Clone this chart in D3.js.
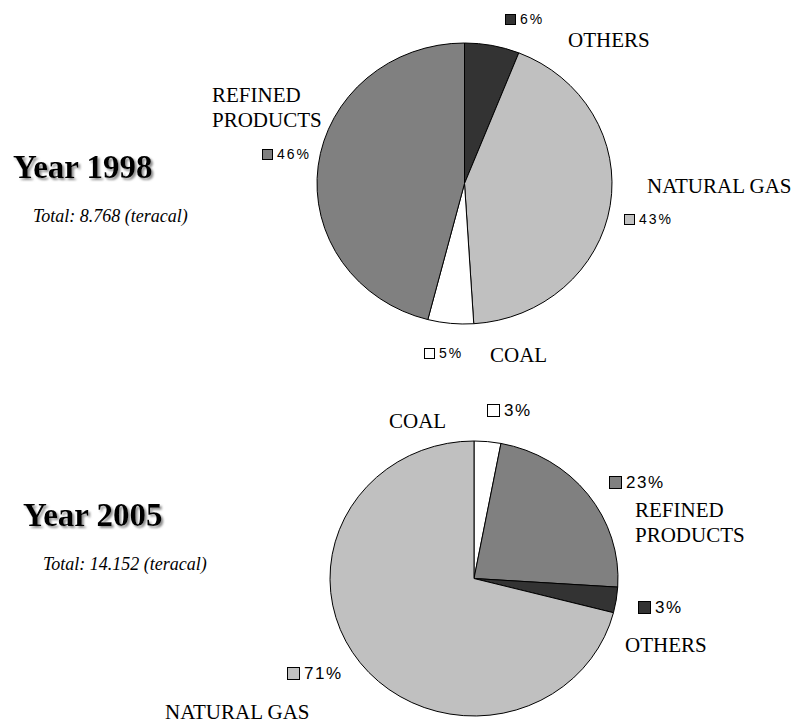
<!DOCTYPE html>
<html>
<head>
<meta charset="utf-8">
<script src="https://cdn.jsdelivr.net/npm/d3@7"></script>
<style>
  body { margin: 0; background: #fff; }
  svg { display: block; }
</style>
</head>
<body>
<script type="text/javascript">
var w = 806;
var h = 726;

// DATA (clockwise from 12 o'clock, as drawn)
var categories1998 = ["OTHERS", "NATURAL GAS", "COAL", "REFINED PRODUCTS"];
var values1998 = [6, 43, 5, 46];
var categories2005 = ["COAL", "REFINED PRODUCTS", "OTHERS", "NATURAL GAS"];
var values2005 = [3, 23, 3, 71];
var years = ["Year 1998", "Year 2005"];
var totals = ["Total: 8.768 (teracal)", "Total: 14.152 (teracal)"];

var colors = {
  "OTHERS": "#333333",
  "NATURAL GAS": "#c0c0c0",
  "COAL": "#ffffff",
  "REFINED PRODUCTS": "#808080"
};

// LAYOUT
var charts = [
  { cats: categories1998, vals: values1998, cx: 464.5, cy: 183.5, rx: 147.5, ry: 140.5,
    title: [13, 178], total: [33, 222], pctSize: 14, pctSpace: 2, sq: 11,
    labels: {
      "OTHERS":           { name: [568, 47],  pct: [505, 14] },
      "NATURAL GAS":      { name: [647, 193], pct: [624, 214] },
      "COAL":             { name: [490, 362], pct: [424, 348] },
      "REFINED PRODUCTS": { name: [212, 102], pct: [262, 149] }
    } },
  { cats: categories2005, vals: values2005, cx: 474, cy: 578.5, rx: 144, ry: 137.5,
    title: [23, 526], total: [43, 570], pctSize: 17, pctSpace: 1.5, sq: 13,
    labels: {
      "COAL":             { name: [389, 428], pct: [487, 404] },
      "REFINED PRODUCTS": { name: [635, 517], pct: [609, 476] },
      "OTHERS":           { name: [625, 652], pct: [638, 601] },
      "NATURAL GAS":      { name: [165, 719], pct: [287, 667] }
    } }
];

var svg = d3.select("body").append("svg").attr("width", w).attr("height", h);

// soft gray shadow for the year titles
svg.append("defs").append("filter").attr("id", "shadow")
  .attr("x", "-10%").attr("y", "-20%").attr("width", "130%").attr("height", "150%")
  .append("feDropShadow")
  .attr("dx", 2).attr("dy", 2).attr("stdDeviation", 0.8)
  .attr("flood-color", "#808080").attr("flood-opacity", 0.9);

var pie = d3.pie().sort(null).value(function(d) { return d.v; });

charts.forEach(function(c, i) {
  var data = c.cats.map(function(k, j) { return { k: k, v: c.vals[j] }; });
  var arc = d3.arc().innerRadius(0).outerRadius(c.ry);

  // slices (ellipse = circle scaled horizontally)
  var g = svg.append("g")
    .attr("transform", "translate(" + c.cx + "," + c.cy + ") scale(" + (c.rx / c.ry) + ",1)");
  g.selectAll("path").data(pie(data)).enter().append("path")
    .attr("d", arc)
    .attr("fill", function(d) { return colors[d.data.k]; })
    .attr("stroke", "#000")
    .attr("stroke-width", 1)
    .attr("vector-effect", "non-scaling-stroke");

  // title
  svg.append("text").attr("x", c.title[0]).attr("y", c.title[1])
    .attr("font-family", "Liberation Serif, Times New Roman, serif").attr("font-weight", "bold")
    .attr("font-size", 33).attr("fill", "#000").attr("filter", "url(#shadow)").text(years[i]);

  svg.append("text").attr("x", c.total[0]).attr("y", c.total[1])
    .attr("font-family", "Liberation Serif, Times New Roman, serif").attr("font-style", "italic")
    .attr("font-size", 18).attr("fill", "#000").text(totals[i]);

  // labels
  data.forEach(function(d) {
    var L = c.labels[d.k];
    var words = d.k === "REFINED PRODUCTS" ? ["REFINED", "PRODUCTS"] : [d.k];
    var t = svg.append("text").attr("x", L.name[0]).attr("y", L.name[1])
      .attr("font-family", "Liberation Serif, Times New Roman, serif")
      .attr("font-size", 21).attr("fill", "#000");
    words.forEach(function(wd, j) {
      t.append("tspan").attr("x", L.name[0]).attr("dy", j === 0 ? 0 : 25).text(wd);
    });

    svg.append("rect").attr("x", L.pct[0] + 0.5).attr("y", L.pct[1] + 0.5)
      .attr("width", c.sq - 1).attr("height", c.sq - 1)
      .attr("fill", colors[d.k]).attr("stroke", "#000").attr("stroke-width", 1);
    svg.append("text").attr("x", L.pct[0] + c.sq + 4).attr("y", L.pct[1] + c.sq - 1)
      .attr("font-family", "Liberation Sans, Arial, sans-serif")
      .attr("font-size", c.pctSize).attr("letter-spacing", c.pctSpace)
      .attr("fill", "#000").text(d.v + "%");
  });
});
</script>
</body>
</html>
